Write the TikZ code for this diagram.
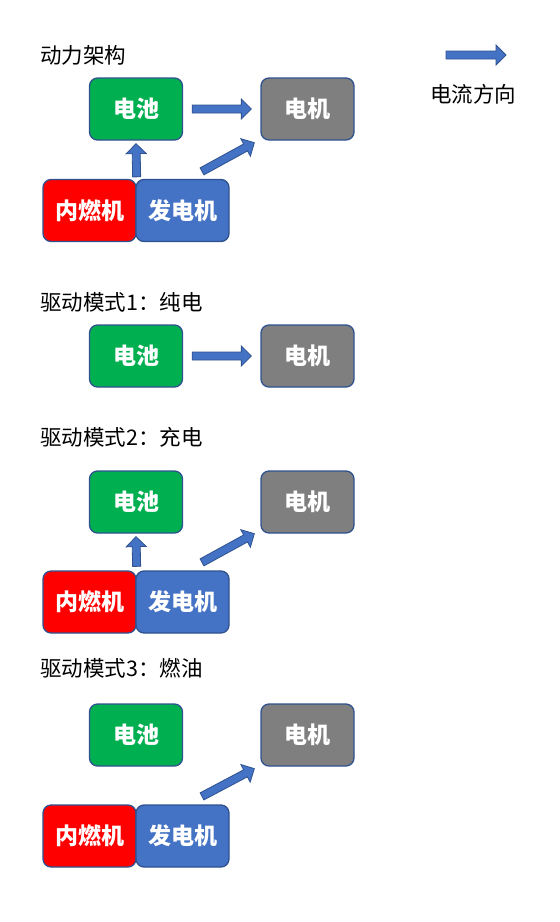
\documentclass[tikz,border=0pt]{standalone}
\usepackage{fontspec}
\newfontfamily\cjk{Noto Sans CJK SC}
\usetikzlibrary{calc}
\usetikzlibrary{positioning}
\definecolor{custom-green}{RGB}{0, 176, 80}
\definecolor{custom-gray}{RGB}{127, 127, 127}
\definecolor{custom-red}{RGB}{255, 0, 0}
\definecolor{custom-blue}{RGB}{68, 114, 196}
\definecolor{custom-border}{RGB}{47, 82, 143}
\tikzset{
  box/.style={draw=custom-border, line width=1.3pt, rounded corners=8pt,
    minimum width=93pt, minimum height=62pt, inner sep=0pt, text=white,
    font=\cjk\bfseries\fontsize{23}{23}\selectfont},
  title/.style={anchor=west, inner sep=0pt, font=\cjk\fontsize{21.5}{21.5}\selectfont},
  flowarrow/.style={fill=custom-blue, draw=custom-border, line width=0.8pt, line join=miter}
}
\newcommand{\flow}[2]{%
  \filldraw[flowarrow] ($(#1)!4pt!90:(#2)$) -- ($(#2)!10pt!(#1)!4pt!90:(#2)$)
    -- ($(#2)!10pt!(#1)!10pt!90:(#2)$) -- (#2)
    -- ($(#2)!10pt!(#1)!10pt!-90:(#2)$) -- ($(#2)!10pt!(#1)!4pt!-90:(#2)$)
    -- ($(#1)!4pt!-90:(#2)$) -- cycle;}
\begin{document}
\begin{tikzpicture}[x=1pt, y=-1pt]
\useasboundingbox (0,0) rectangle (560,922);

% legend
\coordinate (l1) at (446,55);
\coordinate (l2) at (506,55);
\flow{l1}{l2}
\node[title, anchor=center] (legend) at (473,94) {电流方向};

% architecture
\node[title] (t0) at (40,55) {动力架构};
\node[box, fill=custom-green] (bat0) at (136,109) {电池};
\node[box, fill=custom-gray] (mot0) at (307.5,109) {电机};
\node[box, fill=custom-red] (eng0) at (89.5,210.5) {内燃机};
\node[box, fill=custom-blue] (gen0) at (182.5,210.5) {发电机};
\path (bat0.east) ++(9,0) coordinate (a0) (mot0.west) ++(-9,0) coordinate (b0);
\path (eng0.north east) ++(0,-2) coordinate (c0) (bat0.south) ++(0,3) coordinate (d0);
\path (gen0.north) ++(19.5,-7.5) coordinate (e0) (mot0.south west) ++(-6,2) coordinate (f0);
\flow{a0}{b0}
\flow{c0}{d0}
\flow{e0}{f0}

% mode 1
\node[title] (t1) at (40,302) {驱动模式1：纯电};
\node[box, fill=custom-green] (bat1) at (136,356) {电池};
\node[box, fill=custom-gray] (mot1) at (307.5,356) {电机};
\path (bat1.east) ++(9,0) coordinate (a1) (mot1.west) ++(-9,0) coordinate (b1);
\flow{a1}{b1}

% mode 2
\node[title] (t2) at (40,437) {驱动模式2：充电};
\node[box, fill=custom-green] (bat2) at (136,502) {电池};
\node[box, fill=custom-gray] (mot2) at (307.5,502) {电机};
\node[box, fill=custom-red] (eng2) at (89.5,602) {内燃机};
\node[box, fill=custom-blue] (gen2) at (182.5,602) {发电机};
\path (eng2.north east) ++(0,-4) coordinate (c2) (bat2.south) ++(0,3) coordinate (d2);
\path (gen2.north) ++(19.5,-8) coordinate (e2) (mot2.south west) ++(-6,0) coordinate (f2);
\flow{c2}{d2}
\flow{e2}{f2}

% mode 3
\node[title] (t3) at (40,668) {驱动模式3：燃油};
\node[box, fill=custom-green] (bat3) at (136,735) {电池};
\node[box, fill=custom-gray] (mot3) at (307.5,735) {电机};
\node[box, fill=custom-red] (eng3) at (89.5,836) {内燃机};
\node[box, fill=custom-blue] (gen3) at (182.5,836) {发电机};
\path (gen3.north) ++(19.5,-8) coordinate (e3) (mot3.south west) ++(-6,2) coordinate (f3);
\flow{e3}{f3}
\end{tikzpicture}
\end{document}
